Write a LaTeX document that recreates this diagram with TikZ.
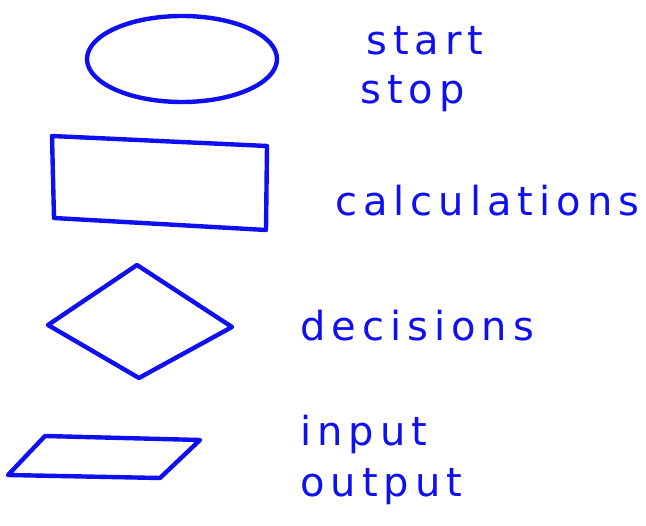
\documentclass[tikz,border=0pt]{standalone}
\usepackage{fontspec}
\setmainfont{DejaVu Sans}[LetterSpace=15]
\usetikzlibrary{shapes.geometric}
\definecolor{ink}{RGB}{15,15,240}
\tikzset{
  pen/.style={draw=ink, line width=4.4pt, line join=round, line cap=round},
  lbl/.style={text=ink, anchor=base west, inner sep=0pt, font=\fontsize{40}{44}\selectfont}
}
\begin{document}
\begin{tikzpicture}[x=1pt,y=-1pt]
\useasboundingbox (0,0) rectangle (646,526);
\node[pen, ellipse, minimum width=190pt, minimum height=86pt, inner sep=0pt] (oval) at (182,59) {};
\draw[pen] (52,136) -- (267,146) -- (266,230) -- (54,218) -- cycle;
\coordinate (rect) at (160,183);
\draw[pen] (48,325) -- (137,265) -- (232,327) -- (139,378) -- cycle;
\coordinate (dia) at (140,322);
\draw[pen] (45,436) -- (200,440) -- (160,478) -- (8,475) -- cycle;
\coordinate (para) at (104,457);
\node[lbl] (start) at (366,55) {start};
\node[lbl] (stop) at (360,104) {stop};
\node[lbl] (calc) at (335,216) {calculations};
\node[lbl] (dec) at (300,341) {decisions};
\node[lbl] (inp) at (300,446) {input};
\node[lbl] (outp) at (300,497) {output};
\end{tikzpicture}
\end{document}
